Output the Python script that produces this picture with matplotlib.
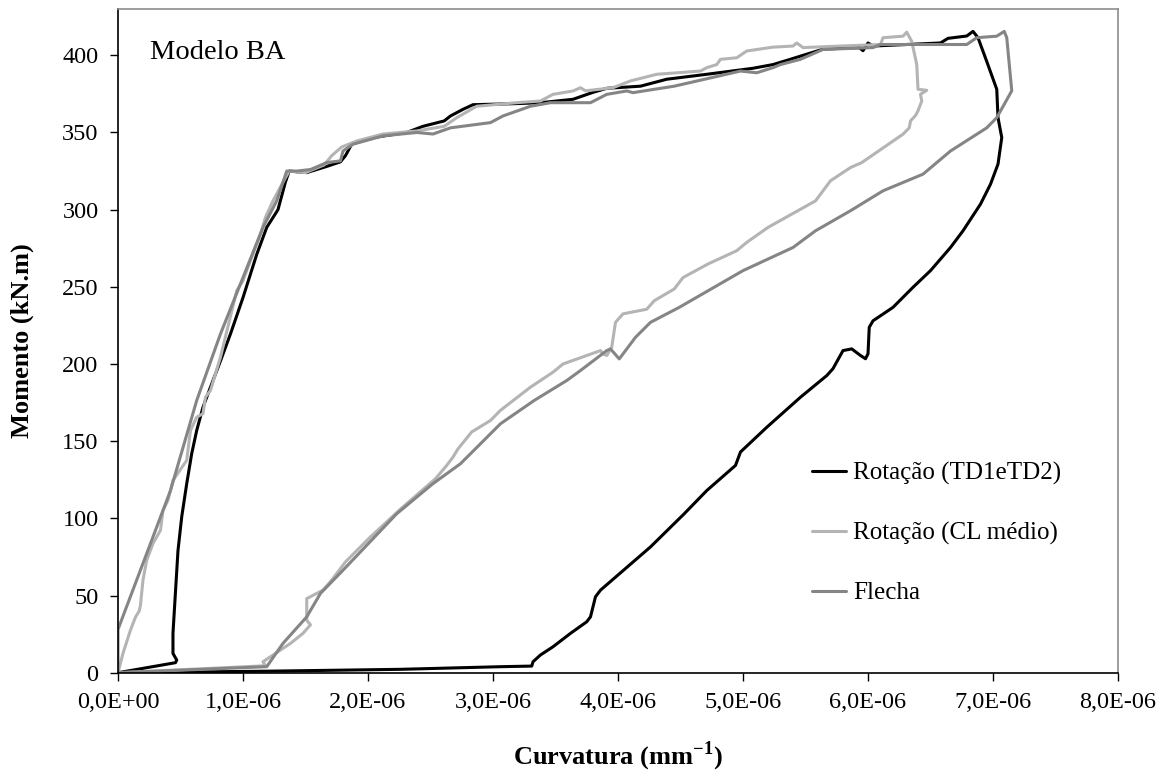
import matplotlib
matplotlib.use('Agg')
import matplotlib.pyplot as plt
from matplotlib.ticker import FuncFormatter, MultipleLocator
import numpy as np

plt.rcParams['font.family'] = ['Liberation Serif', 'DejaVu Serif']
plt.rcParams['mathtext.fontset'] = 'custom'
plt.rcParams['mathtext.rm'] = 'Liberation Serif'
plt.rcParams['mathtext.bf'] = 'Liberation Serif:bold'

# curvatura em 1e-6 mm^-1, momento em kN.m
td_curv = [0, 0.46, 0.47, 0.44, 0.44, 0.456, 0.48, 0.51, 0.55, 0.59, 0.63, 0.68, 0.74, 0.82,
           0.90, 1.00, 1.11, 1.19, 1.28, 1.34, 1.37, 1.51, 1.67, 1.78, 1.82, 1.87, 2.04, 2.31,
           2.44, 2.61, 2.66, 2.76, 2.84, 3.19, 3.38, 3.64, 3.80, 3.91, 4.18, 4.39, 4.71, 5.08,
           5.24, 5.35, 5.64, 5.93, 5.96, 6.00, 6.04, 6.58, 6.64, 6.79, 6.84, 6.88, 6.95, 7.03,
           7.04, 7.07, 7.04, 6.98, 6.90, 6.76, 6.66, 6.50, 6.36, 6.20, 6.04, 6.01, 6.00, 5.98,
           5.94, 5.87, 5.80, 5.72, 5.67, 5.46, 5.19, 4.98, 4.94, 4.71, 4.53, 4.26, 3.86, 3.82,
           3.78, 3.75, 3.62, 3.48, 3.38, 3.32, 3.31, 3.06, 2.26, 1.20, 0]
td_mom = [0, 6.5, 8.2, 12.5, 25.5, 47, 79, 101, 122.5, 142, 157, 172, 185, 202,
          219.5, 243, 271, 288.5, 300, 318, 325, 324, 328, 331, 335, 342.5, 346.7, 350,
          354, 357.5, 360.7, 365, 368, 368.7, 369.3, 371.5, 376, 378.6, 380, 384.5, 387.7, 391.6,
          394, 396.7, 404, 405, 403, 408, 406, 408, 411, 412.5, 415.5, 411.4, 396, 378,
          359.6, 346.7, 329.5, 316.5, 303.6, 286.3, 275.5, 260.5, 249.7, 236.7, 228, 223.8, 206.6, 203.4,
          205.5, 209.8, 208.7, 197, 192.5, 178.5, 159, 143, 134.3, 118, 103, 81.5, 53.5, 49.2,
          36.2, 33, 25.5, 16.8, 11.5, 7.1, 4.3, 3.9, 2.2, 1.0, 0]

cl_curv = [0, 0.04, 0.10, 0.14, 0.17, 0.18, 0.20, 0.23, 0.28, 0.34, 0.36, 0.40, 0.44, 0.55,
           0.58, 0.63, 0.68, 0.70, 0.74, 0.82, 0.95, 1.00, 1.11, 1.14, 1.18, 1.24, 1.34, 1.37,
           1.50, 1.65, 1.71, 1.79, 1.91, 2.12, 2.39, 2.61, 2.71, 2.87, 3.19, 3.38, 3.48, 3.64,
           3.70, 3.74, 3.96, 4.10, 4.31, 4.66, 4.71, 4.79, 4.82, 4.95, 5.03, 5.24, 5.40, 5.43,
           5.48, 5.78, 6.10, 6.12, 6.28, 6.31, 6.35, 6.39, 6.40, 6.47, 6.42, 6.43, 6.40, 6.38,
           6.34, 6.33, 6.28, 5.95, 5.86, 5.70, 5.58, 5.20, 5.03, 4.95, 4.72, 4.52, 4.45, 4.29,
           4.23, 4.04, 3.98, 3.95, 3.91, 3.88, 3.86, 3.56, 3.48, 3.30, 3.06, 2.98, 2.83, 2.72,
           2.68, 2.63, 2.54, 2.26, 2.02, 1.82, 1.71, 1.64, 1.59, 1.51, 1.51, 1.54, 1.48, 1.38,
           1.16, 1.18, 0]
cl_mom = [0, 12.5, 27.6, 36, 40, 43.8, 60, 72.9, 83.7, 92.3, 105, 111.7, 124.6, 137.6,
          157, 165.6, 167.8, 178.5, 182.9, 204.4, 247.5, 254, 277.7, 284, 295, 305.7, 320.8, 325,
          324, 329, 335, 340.6, 344.5, 349, 351, 354, 359.6, 367, 369.3, 370.4, 374.7, 376.9,
          379, 377, 379, 383.4, 387.7, 389.8, 392, 394, 397.4, 398.4, 402.8, 405.3, 406, 408,
          405, 406, 407, 411.4, 412.4, 415, 409, 394, 378, 377.3, 374.8, 370.4, 364, 361,
          357.5, 353, 348.9, 330.5, 327.3, 318.7, 305.7, 288.5, 278.8, 273.4, 264.8, 256, 248.6, 241,
          235.5, 232.5, 227, 210.9, 205.5, 206.6, 208.7, 200, 194.7, 185, 170, 163.4, 156, 145,
          139.7, 134.3, 125.7, 106, 88, 71.8, 60, 53.5, 51.4, 48, 34, 31, 25.5, 19,
          7.1, 4.5, 0]

fl_curv = [0, 0, 0.20, 0.42, 0.63, 0.82, 1.00, 1.16, 1.27, 1.35, 1.43, 1.54, 1.67, 1.78,
           1.80, 1.88, 2.12, 2.39, 2.52, 2.66, 2.98, 3.08, 3.30, 3.46, 3.78, 3.91, 4.07, 4.12,
           4.45, 4.98, 5.11, 5.24, 5.30, 5.46, 5.64, 6.04, 6.10, 6.79, 6.87, 7.03, 7.09, 7.11,
           7.15, 7.03, 6.95, 6.66, 6.44, 6.12, 5.86, 5.58, 5.40, 5.00, 4.49, 4.26, 4.14, 4.01,
           3.94, 3.91, 3.70, 3.59, 3.33, 3.06, 2.74, 2.52, 2.23, 1.80, 1.62, 1.51, 1.32, 1.19, 0]
fl_mom = [0, 28, 70.8, 118, 176.4, 219.5, 256, 288.5, 305.7, 325, 325, 326, 330.5, 331.6,
          338, 342.4, 347.8, 350, 349, 353, 356.4, 360.7, 367, 369.3, 369.3, 374.7, 376.9, 375.8,
          380, 389.8, 388.7, 392, 394, 397.4, 403.8, 405, 407, 407, 411.4, 412.4, 415.5, 411.4,
          377, 359.6, 353, 338, 323, 312.2, 299.3, 286.3, 275.5, 260.5, 236.7, 227, 217.3, 203.3,
          209.8, 208.7, 195.8, 189.3, 176.4, 161.3, 135.4, 122.5, 103, 66.4, 51.4, 36.2, 19, 3.9, 0]

series = [
    ('Rotação (TD1eTD2)', td_curv, td_mom, '#000000'),
    ('Rotação (CL médio)', cl_curv, cl_mom, '#b4b4b4'),
    ('Flecha', fl_curv, fl_mom, '#858585'),
]


def fmt_x(v, pos):
    if abs(v) < 1e-12:
        return '0,0E+00'
    return f'{v * 1e6:.1f}E-06'.replace('.', ',')


fig = plt.figure(figsize=(11.68, 7.76), dpi=100)
ax = fig.add_axes([0.101, 0.1331, 0.8562, 0.8553])

for label, cx, my, col in series:
    ax.plot(np.array(cx) * 1e-6, my, color=col, lw=2.2, label=label,
            solid_joinstyle='round', solid_capstyle='round')

ax.set_xlim(0, 8e-6)
ax.set_ylim(0, 430)
ax.xaxis.set_major_locator(MultipleLocator(1e-6))
ax.yaxis.set_major_locator(MultipleLocator(50))
ax.xaxis.set_major_formatter(FuncFormatter(fmt_x))
ax.tick_params(axis='both', direction='out', length=6, width=1, labelsize=17.5, pad=8)

for s in ('left', 'bottom'):
    ax.spines[s].set_color('black')
for s in ('top', 'right'):
    ax.spines[s].set_color('#8c8c8c')
for s in ax.spines.values():
    s.set_linewidth(1.2)

ax.set_xlabel(r'Curvatura (mm$^{\mathbf{-1}}$)', fontsize=19, fontweight='bold')
ax.set_ylabel('Momento (kN.m)', fontsize=19, fontweight='bold')
ax.xaxis.set_label_coords(0.5, -0.100)
ax.yaxis.set_label_coords(-0.084, 0.5)

ax.text(0.032, 0.934, 'Modelo BA', transform=ax.transAxes, fontsize=20.5,
        ha='left', va='center')

ax.legend(loc='upper left', bbox_to_anchor=(0.694, 0.318), frameon=False,
          fontsize=18, handlelength=1.35, handletextpad=0.3, labelspacing=1.48,
          borderpad=0, borderaxespad=0)

fig.savefig('out.png', dpi=100, facecolor='white')
